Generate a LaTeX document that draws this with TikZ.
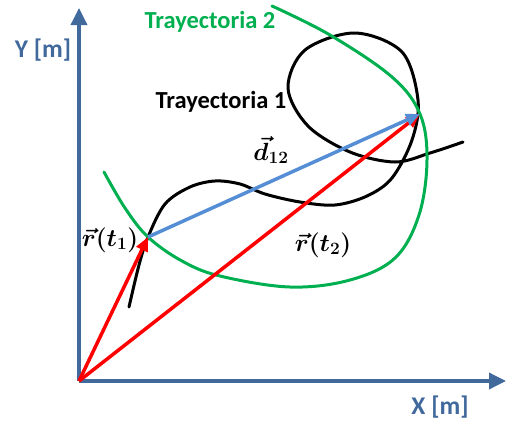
\documentclass[tikz,border=0pt]{standalone}
\usepackage{fontspec}
\setmainfont{Carlito}
\usepackage{amsmath}
\usepackage{bm}
\usetikzlibrary{arrows.meta}
\definecolor{axisblue}{HTML}{41699C}
\definecolor{trgreen}{HTML}{00B050}
\definecolor{dblue}{HTML}{558ED5}

\begin{document}
\begin{tikzpicture}[x=1pt, y=-1pt,
    axis/.style={axisblue, line width=3.5pt, -{Triangle[length=17pt,width=16pt]}},
    track/.style={line width=3pt, line cap=round},
    rvec/.style={red, line width=3.5pt, -{Triangle[length=14pt,width=12pt]}},
    dvec/.style={dblue, line width=3.5pt, -{Triangle[length=14pt,width=12pt]}},
    trlabel/.style={font=\fontsize{24.5}{28}\selectfont\bfseries},
    axlabel/.style={axisblue, font=\fontsize{25.5}{29}\selectfont\bfseries},
    vlabel/.style={inner sep=0pt, font=\fontsize{25}{29}\selectfont\boldmath}]
    \useasboundingbox (0,0) rectangle (507,421);
    % puntos
    \coordinate (O) at (79,381);
    \coordinate (Xend) at (506,381);
    \coordinate (Yend) at (79,8);
    \coordinate (P1) at (148,237);
    \coordinate (P2) at (420,114);
    % trayectorias
    \draw[track, black] plot[smooth, tension=0.55] coordinates {(129,307) (139,265) (P1) (165,204) (190,187) (215,181) (240,184) (265,194) (300,202) (335,205) (367,196) (392,178) (412,140) (418,100) (402,52) (355,33) (305,50) (288,88) (308,126) (350,152) (395,162) (430,153) (463,142)};
    \draw[track, trgreen] plot[smooth, tension=0.6] coordinates {(104,172) (125,208) (P1) (182,261) (220,276) (290,287) (350,280) (395,258) (419,215) (427,160) (P2) (392,77) (330,35) (272,6)};
    % ejes
    \draw[axis] (O) -- (Xend);
    \draw[axis] (O) -- (Yend);
    % vectores
    \draw[rvec] (O) -- (P1);
    \draw[rvec] (O) -- (P2);
    \draw[dvec] (P1) -- (P2);
    % textos
    \node[trlabel, trgreen] (lbl2) at (210,22) {Trayectoria 2};
    \node[trlabel] (lbl1) at (221,102) {Trayectoria 1};
    \node[vlabel] (d12) at (271,150) {$\vec{d}_{12}$};
    \node[vlabel] (r1) at (110,240) {$\vec{r}(t_1)$};
    \node[vlabel] (r2) at (323,245) {$\vec{r}(t_2)$};
    \node[axlabel] (ylbl) at (43,50) {Y [m]};
    \node[axlabel] (xlbl) at (440,407) {X [m]};
\end{tikzpicture}
\end{document}
